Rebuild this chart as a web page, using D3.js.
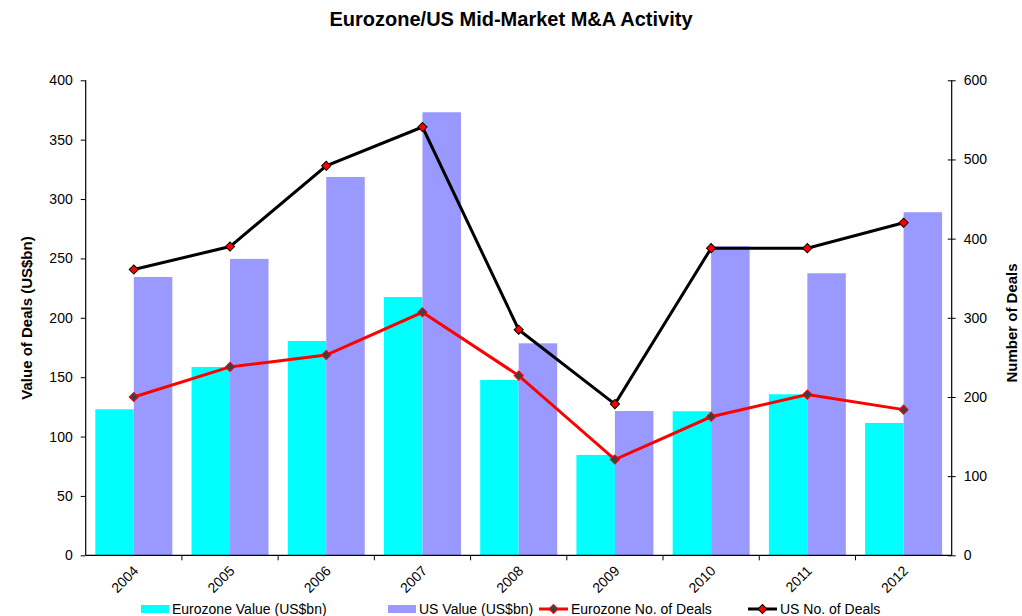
<!DOCTYPE html>
<html>
<head>
<meta charset="utf-8">
<script src="https://cdn.jsdelivr.net/npm/d3@7"></script>
<style>
html,body{margin:0;padding:0;background:#fff;}
svg{display:block;font-family:"Liberation Sans",Arial,sans-serif;}
</style>
</head>
<body>
<svg id="chart" width="1022" height="616"></svg>
<script>
const years = ["2004","2005","2006","2007","2008","2009","2010","2011","2012"];
const euroValue = [123, 158.6, 180.5, 217.5, 147.6, 84.5, 121.3, 135.6, 111.4];
const usValue = [234.4, 249.6, 318.6, 373.1, 178.5, 121.5, 260.2, 237.5, 288.9];
const euroDeals = [200, 238, 253, 307, 227, 121, 175, 203, 184];
const usDeals = [361, 390, 492, 541, 285, 191, 388, 388, 420];
const leftTicks = [0,50,100,150,200,250,300,350,400];
const rightTicks = [0,100,200,300,400,500,600];

const svg = d3.select("#chart");
const L = 85.7, R = 951.7, T = 80.3, B = 555.3;

const x = d3.scaleBand().domain(years).range([L, R]).paddingInner(0.2).paddingOuter(0.1);
const yL = d3.scaleLinear().domain([0,400]).range([B, T]);
const yR = d3.scaleLinear().domain([0,600]).range([B, T]);
const bw = x.bandwidth()/2;
const step = x.step();

// title
svg.append("text").attr("x", 511).attr("y", 26).attr("text-anchor","middle")
  .attr("font-size", 20).attr("font-weight","bold").text("Eurozone/US Mid-Market M&A Activity");

// bars
svg.append("g").selectAll("rect").data(years).join("rect")
  .attr("x", d => x(d)).attr("width", bw)
  .attr("y", (d,i) => yL(euroValue[i])).attr("height", (d,i) => B - yL(euroValue[i]))
  .attr("fill", "#00FFFF");
svg.append("g").selectAll("rect").data(years).join("rect")
  .attr("x", d => x(d) + bw).attr("width", bw)
  .attr("y", (d,i) => yL(usValue[i])).attr("height", (d,i) => B - yL(usValue[i]))
  .attr("fill", "#9999FF");

// axes
const gL = svg.append("g").attr("transform", `translate(${L},0)`)
  .call(d3.axisLeft(yL).tickValues(leftTicks).tickSize(5).tickPadding(8));
const gR = svg.append("g").attr("transform", `translate(${R},0)`)
  .call(d3.axisRight(yR).tickValues(rightTicks).tickSize(4).tickPadding(8));
gR.selectAll(".tick line").attr("x1", -4);
[gL, gR].forEach(g => {
  g.select(".domain").attr("stroke","#000").attr("stroke-width",1.2);
  g.selectAll(".tick line").attr("stroke","#000");
  g.selectAll("text").attr("font-size", 14).attr("fill","#000").attr("font-family","Liberation Sans, Arial, sans-serif");
});
gL.select(".domain").attr("d", `M-0,${T}V${B}`);
gR.select(".domain").attr("d", `M0,${T}V${B}`);

// bottom axis
const gB = svg.append("g");
gB.append("line").attr("x1", L).attr("x2", R).attr("y1", B).attr("y2", B).attr("stroke","#000").attr("stroke-width",1.2);
const bounds = d3.range(years.length + 1).map(i => L + i*step);
gB.selectAll("line.tk").data(bounds.slice(1, -1)).join("line").attr("class","tk")
  .attr("x1", d => d).attr("x2", d => d).attr("y1", B).attr("y2", B + 5).attr("stroke","#000");
gB.selectAll("text").data(years).join("text")
  .attr("transform", d => `translate(${x(d) + bw + 2},${B + 13}) rotate(-45)`)
  .attr("text-anchor","end").attr("dy","0.35em").attr("font-size", 14).text(d => d);

// lines
const diamond = d3.symbol().type(d3.symbolSquare).size(42);
function series(vals, lineColor, fill, stroke) {
  const pts = vals.map((v,i) => [x(years[i]) + bw, yR(v)]);
  svg.append("path").attr("d", d3.line()(pts)).attr("fill","none")
    .attr("stroke", lineColor).attr("stroke-width", 3).attr("stroke-linejoin","miter");
  svg.append("g").selectAll("path").data(pts).join("path")
    .attr("transform", d => `translate(${d[0]},${d[1]}) rotate(45)`).attr("d", diamond)
    .attr("fill", fill).attr("stroke", stroke).attr("stroke-width", 1);
}
series(euroDeals, "#FF0000", "#404040", "#FF0000");
series(usDeals, "#000000", "#FF0000", "#000000");

// axis titles
svg.append("text").attr("transform", "translate(32,318) rotate(-90)").attr("text-anchor","middle")
  .attr("font-size", 15).attr("font-weight","bold").text("Value of Deals (US$bn)");
svg.append("text").attr("transform", "translate(1017,323) rotate(-90)").attr("text-anchor","middle")
  .attr("font-size", 15).attr("font-weight","bold").text("Number of Deals");

// legend
const lg = svg.append("g");
const lgY = 609;
lg.append("rect").attr("x",141).attr("y",lgY-4).attr("width",28).attr("height",8).attr("fill","#00FFFF");
lg.append("text").attr("x",172).attr("y",lgY).attr("dy","0.38em").attr("font-size",14).text("Eurozone Value (US$bn)");
lg.append("rect").attr("x",388).attr("y",lgY-4).attr("width",28).attr("height",8).attr("fill","#9999FF");
lg.append("text").attr("x",419).attr("y",lgY).attr("dy","0.38em").attr("font-size",14).text("US Value (US$bn)");
lg.append("line").attr("x1",539).attr("x2",568).attr("y1",lgY).attr("y2",lgY).attr("stroke","#FF0000").attr("stroke-width",3);
lg.append("path").attr("transform",`translate(553.5,${lgY}) rotate(45)`).attr("d",diamond).attr("fill","#404040").attr("stroke","#FF0000");
lg.append("text").attr("x",571).attr("y",lgY).attr("dy","0.38em").attr("font-size",14).text("Eurozone No. of Deals");
lg.append("line").attr("x1",748).attr("x2",777).attr("y1",lgY).attr("y2",lgY).attr("stroke","#000").attr("stroke-width",3);
lg.append("path").attr("transform",`translate(762.5,${lgY}) rotate(45)`).attr("d",diamond).attr("fill","#FF0000").attr("stroke","#000");
lg.append("text").attr("x",780).attr("y",lgY).attr("dy","0.38em").attr("font-size",14).text("US No. of Deals");
</script>
</body>
</html>
